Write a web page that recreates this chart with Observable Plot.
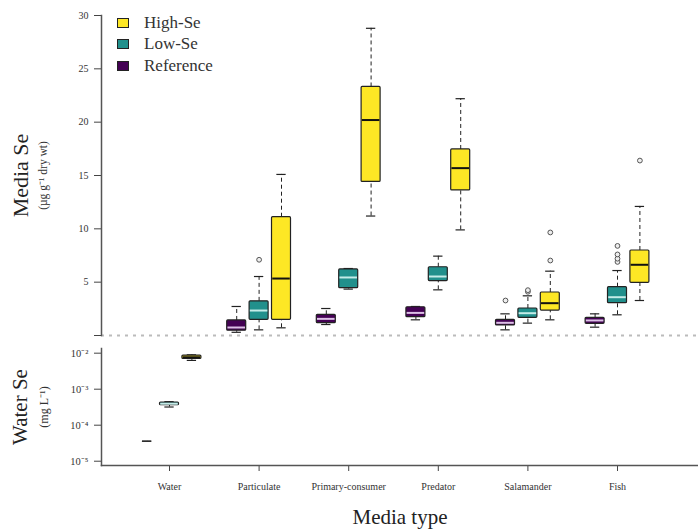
<!DOCTYPE html>
<html><head><meta charset="utf-8">
<script src="https://cdn.jsdelivr.net/npm/d3@7"></script>
<script src="https://cdn.jsdelivr.net/npm/@observablehq/plot@0.6"></script>
<style>
body{margin:0;background:#fff;font-family:"Liberation Serif","Times New Roman",serif;}
#wrap{position:relative;width:698px;height:531px;overflow:hidden}
#wrap svg{display:block}
.legend{position:absolute;left:117px;top:12px;font-size:17px;color:#333}
.row{display:flex;align-items:center;height:21.5px}
.sw{width:12px;height:10px;border:1px solid #222;margin-right:15px;box-sizing:border-box}
</style></head><body><div id="wrap"></div><script>
// ---- categories ----
const groups = ["Water","Particulate","Primary-consumer","Predator","Salamander","Fish"];
const series = ["Reference","Low-Se","High-Se"];
const legendOrder = ["High-Se","Low-Se","Reference"];
const seriesColors = ["#440154","#21908C","#FDE725"];
const medianColors = ["#dcc0e6","#c4ece8","#111111"];

// ---- media Se (µg/g dry wt), groups Particulate..Fish ----
const mediaGroups = ["Particulate","Primary-consumer","Predator","Salamander","Fish"];
const refLo  = [0.30, 1.03, 1.47, 0.53, 0.78];
const refQ1  = [0.45, 1.16, 1.72, 0.94, 1.09];
const refMed = [0.75, 1.56, 2.12, 1.19, 1.41];
const refQ3  = [1.41, 1.94, 2.65, 1.47, 1.66];
const refHi  = [2.72, 2.53, 2.72, 2.03, 2.03];

const lowLo  = [0.53, 4.35, 4.28, 1.16, 1.94];
const lowQ1  = [1.47, 4.44, 5.10, 1.66, 3.03];
const lowMed = [2.34, 5.44, 5.53, 2.09, 3.59];
const lowQ3  = [3.20, 6.19, 6.40, 2.53, 4.53];
const lowHi  = [5.53, 6.28, 7.44, 3.72, 6.09];

const highLo  = [0.72, 11.2, 9.9, 1.47, 3.28];
const highQ1  = [1.47, 14.4, 13.6, 2.34, 4.94];
const highMed = [5.34, 20.2, 15.69, 3.03, 6.63];
const highQ3  = [11.09, 23.3, 17.44, 4.03, 7.97];
const highHi  = [15.1, 28.8, 22.2, 6.03, 12.1];

// outliers: [group, series, value]
const outlierGroup  = ["Particulate","Salamander","Salamander","Salamander","Salamander","Salamander","Fish","Fish","Fish","Fish","Fish"];
const outlierSeries = ["Low-Se","Reference","Low-Se","Low-Se","High-Se","High-Se","Low-Se","Low-Se","Low-Se","Low-Se","High-Se"];
const outlierValue  = [7.1, 3.28, 4.1, 4.25, 7.03, 9.66, 6.9, 7.2, 7.6, 8.4, 16.4];

// ---- water Se (mg/L), order Reference, Low-Se, High-Se ----
const waterLo  = [3.6e-5, 3.2e-4, 6.3e-3];
const waterQ1  = [3.6e-5, 3.6e-4, 6.9e-3];
const waterMed = [3.6e-5, 3.95e-4, 7.7e-3];
const waterQ3  = [3.6e-5, 4.25e-4, 8.6e-3];
const waterHi  = [3.6e-5, 4.5e-4, 9.0e-3];

const yTicksTop = [0,5,10,15,20,25,30];
const yTicksBottom = [1e-5,1e-4,1e-3,1e-2];

// ---- build tables ----
const OFF = 0.25, HALF = 0.106, CAP = 0.052;
const stats = [
  [refLo, refQ1, refMed, refQ3, refHi],
  [lowLo, lowQ1, lowMed, lowQ3, lowHi],
  [highLo, highQ1, highMed, highQ3, highHi]
];
const mediaRows = [];
mediaGroups.forEach((g, k) => {
  series.forEach((s, j) => {
    const [lo,q1,med,q3,hi] = stats[j].map(a => a[k]);
    mediaRows.push({group:g, series:s, pos: groups.indexOf(g) + (j-1)*OFF, lo,q1,med,q3,hi,
      fill: seriesColors[j], medc: medianColors[j]});
  });
});
const waterRows = series.map((s, j) => ({group:"Water", series:s, pos: (j-1)*OFF,
  lo:waterLo[j], q1:waterQ1[j], med:waterMed[j], q3:waterQ3[j], hi:waterHi[j],
  fill: seriesColors[j], medc: medianColors[j]}));
const outliers = outlierValue.map((v,i) => ({
  pos: groups.indexOf(outlierGroup[i]) + (series.indexOf(outlierSeries[i])-1)*OFF, v}));

function boxMarks(rows, outl) {
  const dash = {stroke:"#222", strokeWidth:1, strokeDasharray:"4,3"};
  return [
    Plot.ruleX(rows, {x:"pos", y1:"q3", y2:"hi", ...dash}),
    Plot.ruleX(rows, {x:"pos", y1:"lo", y2:"q1", ...dash}),
    Plot.ruleY(rows, {y:"hi", x1:d=>d.pos-CAP, x2:d=>d.pos+CAP, stroke:"#222", strokeWidth:1.2}),
    Plot.ruleY(rows, {y:"lo", x1:d=>d.pos-CAP, x2:d=>d.pos+CAP, stroke:"#222", strokeWidth:1.2}),
    Plot.rect(rows, {x1:d=>d.pos-HALF, x2:d=>d.pos+HALF, y1:"q1", y2:"q3", fill:"fill", stroke:"#222", strokeWidth:1.2, rx:1}),
    Plot.ruleY(rows.filter(d => d.q3 > d.q1), {y:"med", x1:d=>d.pos-HALF+0.008, x2:d=>d.pos+HALF-0.008, stroke:"medc", strokeWidth:2}),
    Plot.dot(outl, {x:"pos", y:"v", r:2.4, stroke:"#555", strokeWidth:1, fill:"#eee"})
  ];
}

const xDomain = [-0.759, 5.904];
const font = {fontFamily:"'Liberation Serif','Times New Roman',serif", background:"white", color:"#333", overflow:"visible"};

const topPlot = Plot.plot({
  width:698, height:340, marginLeft:101, marginRight:0, marginTop:15, marginBottom:5,
  style: font,
  x:{domain:xDomain, axis:null},
  y:{domain:[0,30], axis:null},
  color:{type:"identity"},
  marks:[
    Plot.ruleY([0], {stroke:"#bbb", strokeWidth:2, strokeDasharray:"3,5"}),
    Plot.axisY({ticks:yTicksTop, tickFormat:d => d===0 ? "" : String(d), tickSize:7, tickPadding:6, fontSize:10, label:null, stroke:"#444"}),
    Plot.frame({anchor:"left", stroke:"#555", strokeWidth:1.5}),
    ...boxMarks(mediaRows, outliers),
    Plot.text(["Media Se"], {frameAnchor:"left", dx:-81, rotate:-90, textAnchor:"middle", lineAnchor:"middle", fontSize:22, fill:"#222"}),
    Plot.text(["(µg g⁻¹ dry wt)"], {frameAnchor:"left", dx:-58, rotate:-90, textAnchor:"middle", lineAnchor:"middle", fontSize:11.5, fill:"#333"})
  ]
});

const sup = {"-":"⁻","0":"⁰","1":"¹","2":"²","3":"³","4":"⁴","5":"⁵","6":"⁶","7":"⁷","8":"⁸","9":"⁹"};
const expo = d => "10" + String(Math.round(Math.log10(d))).split("").map(c => sup[c]).join("");

const bottomPlot = Plot.plot({
  width:698, height:191, marginLeft:101, marginRight:0, marginTop:8, marginBottom:66,
  style: font,
  x:{domain:xDomain, axis:null},
  y:{type:"log", domain:[7.6e-6, 0.01349], axis:null},
  color:{type:"identity"},
  marks:[
    Plot.axisY({ticks:yTicksBottom, tickFormat:expo, tickSize:7, tickPadding:6, fontSize:10.5, label:null, stroke:"#444"}),
    Plot.axisX({ticks:d3.range(groups.length), tickFormat:i => groups[i], tickSize:6, tickPadding:11, fontSize:10, label:null, stroke:"#444"}),
    Plot.frame({anchor:"left", stroke:"#555", strokeWidth:1.5}),
    Plot.frame({anchor:"bottom", stroke:"#555", strokeWidth:1.5}),
    ...boxMarks(waterRows, []),
    Plot.text(["Water Se"], {frameAnchor:"left", dx:-81, rotate:-90, textAnchor:"middle", lineAnchor:"middle", fontSize:21, fill:"#222"}),
    Plot.text(["(mg L⁻¹)"], {frameAnchor:"left", dx:-57, rotate:-90, textAnchor:"middle", lineAnchor:"middle", fontSize:12, fill:"#333"}),
    Plot.text(["Media type"], {frameAnchor:"bottom", dy:52, textAnchor:"middle", lineAnchor:"middle", fontSize:21, fill:"#222"})
  ]
});

const wrap = document.getElementById("wrap");
wrap.appendChild(topPlot);
wrap.appendChild(bottomPlot);

const legend = document.createElement("div");
legend.className = "legend";
legendOrder.forEach(s => {
  const row = document.createElement("div"); row.className = "row";
  const sw = document.createElement("div"); sw.className = "sw";
  sw.style.background = seriesColors[series.indexOf(s)];
  const t = document.createElement("span"); t.textContent = s;
  row.appendChild(sw); row.appendChild(t);
  legend.appendChild(row);
});
wrap.appendChild(legend);
</script></body></html>
